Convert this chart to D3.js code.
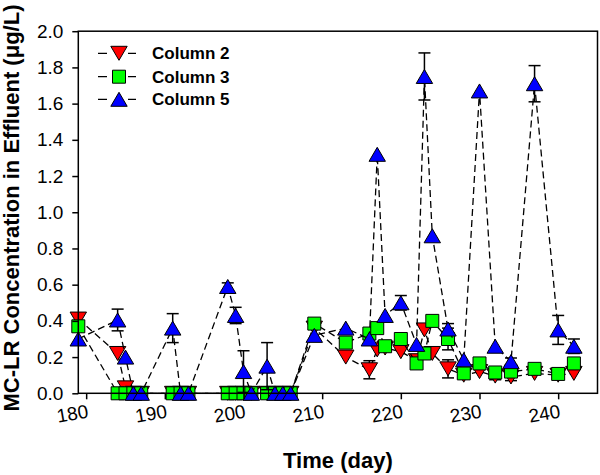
<!DOCTYPE html>
<html><head><meta charset="utf-8">
<script src="https://cdn.jsdelivr.net/npm/d3@7"></script>
<style>body{margin:0;background:#fff}svg{display:block}</style>
</head><body><svg id="c" width="600" height="475"></svg>
<script>
// ---- data ----
const days = [179,184,185,186,187,191,192,193,198,199,200,201,203,204,205,206,209,213,216,217,218,220,222,223,224,226,228,230,232,234,237,240,242];
const col2 = [0.41,0.22,0.03,0,0,0,0,0,0,0,0,0,0,0,0,0,0.36,0.20,0.13,0.24,0.25,0.23,0.18,0.35,0.22,0.135,0.10,0.12,0.095,0.09,0.11,0.10,0.11];
const col3 = [0.37,0,0,0,0,0,0,0,0,0,0,0,0,0,0,0,0.385,0.28,0.33,0.36,0.26,0.30,0.165,0.22,0.40,0.30,0.11,0.165,0.115,0.12,0.135,0.107,0.165];
const col5 = [0.30,0.405,0.20,0,0,0.36,0,0,0.59,0.43,0.12,0,0.15,0,0,0,0.32,0.36,0.30,1.32,0.43,0.50,0.27,1.75,0.87,0.355,0.185,1.67,0.26,0.175,1.71,0.35,0.26];
const err2 = [0,0,0,0,0,0,0,0,0,0,0,0,0,0,0,0,0,0,0.05,0,0,0,0,0,0,0.05,0.02,0,0.02,0.02,0,0,0];
const err3 = [0,0,0,0,0,0,0,0,0,0,0,0,0,0,0,0,0,0,0,0,0.02,0,0,0,0,0.06,0,0,0,0.02,0.02,0,0.02];
const err5 = [0,0.06,0,0,0,0.08,0,0,0.02,0.045,0.115,0,0.13,0,0,0,0,0,0,0,0,0.04,0,0.13,0,0.03,0,0,0,0.02,0.10,0.08,0.04];
const seriesNames = ["Column 2","Column 3","Column 5"];
const seriesColors = ["#FF0000","#00FF00","#0000FF"];
const xTicks = [180,190,200,210,220,230,240];
const yTicks = [0,0.2,0.4,0.6,0.8,1.0,1.2,1.4,1.6,1.8,2.0];
const xTitle = "Time (day)";
const yTitle = "MC-LR Concentration in Effluent (\u03BCg/L)";

// ---- chart ----
const FONT = "'Liberation Sans', Arial, sans-serif";
const svg = d3.select("#c");
const x = d3.scaleLinear().domain([179,245]).range([78.3,597.5]);
const y = d3.scaleLinear().domain([0,2]).range([393.3,31.2]);

const triUp = {draw(ctx,s){ctx.moveTo(0,-7);ctx.lineTo(8.2,7);ctx.lineTo(-8.2,7);ctx.closePath();}};
const triDown = {draw(ctx,s){ctx.moveTo(0,7);ctx.lineTo(8.2,-7);ctx.lineTo(-8.2,-7);ctx.closePath();}};
const sq = {draw(ctx,s){ctx.rect(-6.5,-6.5,13,13);}};
const symbols = [triDown, sq, triUp];

const series = [col2,col3,col5].map((vals,i)=>({
  name: seriesNames[i], color: seriesColors[i], sym: symbols[i],
  pts: days.map((d,j)=>({d, v: vals[j], e: [err2,err3,err5][i][j]}))
}));

const line = d3.line().x(p=>x(p.d)).y(p=>y(p.v));

series.forEach(s=>{
  const g = svg.append("g");
  g.append("path").attr("d", line(s.pts)).attr("fill","none")
    .attr("stroke","#000").attr("stroke-width",1.3).attr("stroke-dasharray","7,4");
  const eb = g.selectAll(".eb").data(s.pts.filter(p=>p.e>0)).join("g")
    .attr("stroke","#000").attr("stroke-width",1.5);
  eb.append("line").attr("x1",p=>x(p.d)).attr("x2",p=>x(p.d))
    .attr("y1",p=>y(Math.max(0,p.v-p.e))).attr("y2",p=>y(p.v+p.e));
  eb.append("line").attr("x1",p=>x(p.d)-6).attr("x2",p=>x(p.d)+6)
    .attr("y1",p=>y(p.v+p.e)).attr("y2",p=>y(p.v+p.e));
  eb.append("line").attr("x1",p=>x(p.d)-6).attr("x2",p=>x(p.d)+6)
    .attr("y1",p=>y(Math.max(0,p.v-p.e))).attr("y2",p=>y(Math.max(0,p.v-p.e)));
  g.selectAll(".m").data(s.pts).join("path")
    .attr("d", d3.symbol().type(s.sym))
    .attr("transform",p=>`translate(${x(p.d)},${y(p.v)})`)
    .attr("fill",s.color).attr("stroke","#000").attr("stroke-width",1);
});

// frame
svg.append("rect").attr("x",x.range()[0]).attr("y",y.range()[1])
  .attr("width",x.range()[1]-x.range()[0]).attr("height",y.range()[0]-y.range()[1])
  .attr("fill","none").attr("stroke","#000").attr("stroke-width",1.5);

// y axis
const ya = svg.append("g").attr("transform",`translate(${x.range()[0]},0)`)
  .call(d3.axisLeft(y).tickValues(yTicks).tickFormat(d3.format(".1f")).tickSize(6).tickSizeOuter(0).tickPadding(9));
ya.select(".domain").remove();
ya.selectAll("line").attr("stroke-width",1.5);
ya.selectAll("text").attr("font-family",FONT).attr("font-size",19).attr("fill","#000");

// x axis
const xa = svg.append("g").attr("transform",`translate(0,${y.range()[0]})`)
  .call(d3.axisBottom(x).tickValues(xTicks).tickFormat(d3.format("d")).tickSize(6).tickSizeOuter(0));
xa.select(".domain").remove();
xa.selectAll("line").attr("stroke-width",1.5);
xa.selectAll("text").remove();
svg.append("g").selectAll("text").data(xTicks).join("text")
  .attr("transform",t=>`translate(${x(t)+3},${y.range()[0]+24}) rotate(-10)`)
  .attr("text-anchor","end").attr("font-family",FONT).attr("font-size",19).text(d3.format("d"));

// titles
svg.append("text").attr("x",(x.range()[0]+x.range()[1])/2).attr("y",468)
  .attr("text-anchor","middle").attr("font-family",FONT).attr("font-weight","bold")
  .attr("font-size",22).text(xTitle);
svg.append("text").attr("transform","translate(19,208) rotate(-90)")
  .attr("text-anchor","middle").attr("font-family",FONT).attr("font-weight","bold")
  .attr("font-size",22).text(yTitle);

// legend
const lg = svg.append("g");
const ly = [53.3,76.7,99.3];
series.forEach((s,i)=>{
  lg.append("line").attr("x1",98).attr("x2",136).attr("y1",ly[i]).attr("y2",ly[i])
    .attr("stroke","#000").attr("stroke-width",1.3).attr("stroke-dasharray","9,21");
  lg.append("path").attr("d",d3.symbol().type(s.sym)).attr("transform",`translate(119,${ly[i]})`)
    .attr("fill",s.color).attr("stroke","#000").attr("stroke-width",1);
  lg.append("text").attr("x",152).attr("y",ly[i]).attr("dy","0.35em")
    .attr("font-family",FONT).attr("font-weight","bold").attr("font-size",17).text(s.name);
});
</script></body></html>
